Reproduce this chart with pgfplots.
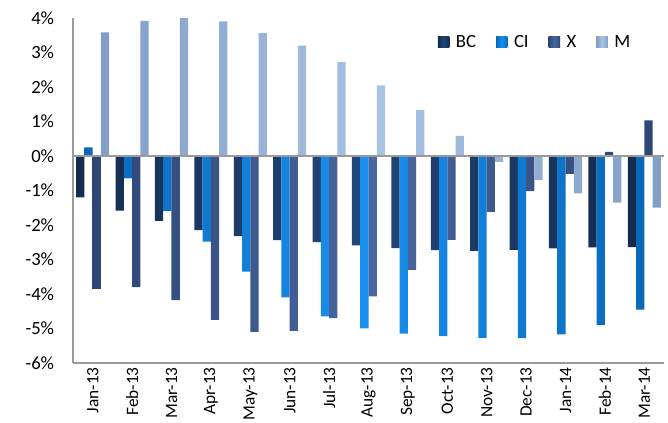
\documentclass[border=0pt]{standalone}
\usepackage{pgfplots}
\pgfplotsset{compat=1.18}
\usepackage{fontspec}
\setmainfont{Carlito}
\definecolor{cBC}{HTML}{21477A}
\definecolor{cBCd}{HTML}{142C4E}
\definecolor{cBCl}{HTML}{17375E}
\definecolor{cCI}{HTML}{1A90F0}
\definecolor{cCId}{HTML}{0868BA}
\definecolor{cCIl}{HTML}{0078D7}
\definecolor{cX}{HTML}{4A67A0}
\definecolor{cXd}{HTML}{2E4676}
\definecolor{cXl}{HTML}{3B5590}
\definecolor{cM}{HTML}{A8C3E4}
\definecolor{cMd}{HTML}{839EC6}
\definecolor{cMl}{HTML}{95B3D7}
\definecolor{axgray}{HTML}{9A9A9A}
\newcommand\legsq[1]{\fill[#1] (0pt,-4.25pt) rectangle (8.5pt,4.25pt); \path (13.5pt,0pt);}
\begin{document}
\begin{tikzpicture}
\begin{axis}[
  name=ax, at={(0,0)}, anchor=south west,
  scale only axis, width=443.25pt, height=258.75pt,
  xmin=-0.5, xmax=14.5, ymin=-6, ymax=4,
  ybar=0pt, bar width=0.21,
  axis x line=bottom, axis y line=left,
  axis line style={-, draw=axgray, line width=1.2pt},
  xtick={0,...,14},
  xticklabels={Jan-13,Feb-13,Mar-13,Apr-13,May-13,Jun-13,Jul-13,Aug-13,Sep-13,Oct-13,Nov-13,Dec-13,Jan-14,Feb-14,Mar-14},
  ytick={-6,-5,-4,-3,-2,-1,0,1,2,3,4},
  yticklabels={-6\%,-5\%,-4\%,-3\%,-2\%,-1\%,0\%,1\%,2\%,3\%,4\%},
  major tick length=0pt,
  tick label style={font=\fontsize{14}{16}\selectfont},
  xticklabel style={rotate=90, anchor=east, inner xsep=3pt, inner ysep=0pt, font=\fontsize{13}{15}\selectfont},
  yticklabel style={anchor=east, inner sep=0pt, xshift=-14pt},
  legend style={at={(0.617,0.93)}, anchor=west, draw=none, fill=none, inner sep=0pt,
    legend columns=4, font=\fontsize{14}{16}\selectfont,
    nodes={inner sep=0pt},
    /tikz/every even column/.append style={column sep=15pt}},
  clip=false,
]
\addplot[draw=none, left color=cBCd, right color=cBCd, middle color=cBC,
  legend image code/.code={\legsq{cBCl}}] coordinates {
 (0,-1.2) (1,-1.58) (2,-1.88) (3,-2.15) (4,-2.32) (5,-2.44) (6,-2.5) (7,-2.59) (8,-2.67) (9,-2.73) (10,-2.75) (11,-2.72) (12,-2.68) (13,-2.65) (14,-2.64)};
\addplot[draw=none, left color=cCId, right color=cCId, middle color=cCI,
  legend image code/.code={\legsq{cCIl}}] coordinates {
 (0,0.25) (1,-0.65) (2,-1.6) (3,-2.48) (4,-3.35) (5,-4.1) (6,-4.65) (7,-5.0) (8,-5.15) (9,-5.22) (10,-5.27) (11,-5.28) (12,-5.17) (13,-4.9) (14,-4.45)};
\addplot[draw=none, left color=cXd, right color=cXd, middle color=cX,
  legend image code/.code={\legsq{cXl}}] coordinates {
 (0,-3.85) (1,-3.8) (2,-4.18) (3,-4.75) (4,-5.1) (5,-5.07) (6,-4.7) (7,-4.07) (8,-3.3) (9,-2.43) (10,-1.62) (11,-1.02) (12,-0.52) (13,0.12) (14,1.03)};
\addplot[draw=none, left color=cMd, right color=cMd, middle color=cM,
  legend image code/.code={\legsq{cMl}}] coordinates {
 (0,3.58) (1,3.92) (2,4.0) (3,3.9) (4,3.56) (5,3.2) (6,2.72) (7,2.05) (8,1.33) (9,0.58) (10,-0.17) (11,-0.7) (12,-1.08) (13,-1.35) (14,-1.5)};
\legend{BC,CI,X,M}
\draw[axgray, line width=1.2pt] (axis cs:-0.5,0) -- (axis cs:14.5,0);
\end{axis}
\pgfresetboundingbox
\useasboundingbox (-54.75pt,-45pt) rectangle (446.25pt,272.25pt);
\end{tikzpicture}
\end{document}
